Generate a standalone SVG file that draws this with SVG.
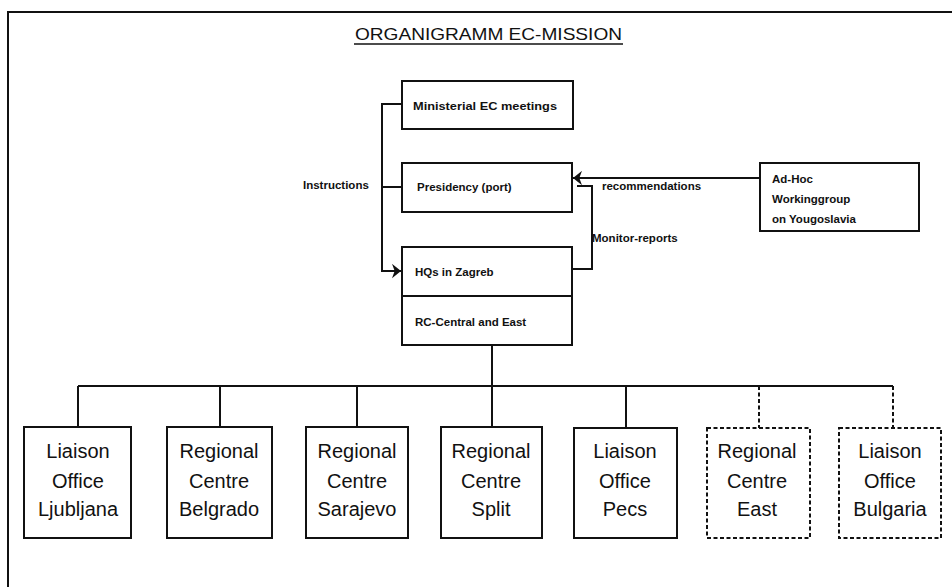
<svg xmlns="http://www.w3.org/2000/svg" width="952" height="587" viewBox="0 0 952 587">
<defs>
<style>
.box{fill:#fff;stroke:#111;stroke-width:2}
.dash{fill:#fff;stroke:#111;stroke-width:2;stroke-dasharray:4 2.5}
.ln{fill:none;stroke:#111;stroke-width:2}
.dl{fill:none;stroke:#111;stroke-width:2;stroke-dasharray:4 2.5}
.s{font-family:"Liberation Sans",Arial,sans-serif;font-size:11.5px;font-weight:bold;fill:#111}
.b{font-family:"Liberation Sans",Arial,sans-serif;font-size:20px;fill:#111;text-anchor:middle}
.t{font-family:"Liberation Sans",Arial,sans-serif;font-size:17px;fill:#111}
</style>
<marker id="ah" viewBox="0 0 10 16" refX="10" refY="8" markerWidth="9" markerHeight="15" markerUnits="userSpaceOnUse" orient="auto">
<path d="M0,0 L10,8 L0,16 L3,8 z" fill="#111"/>
</marker>
</defs>
<rect width="952" height="587" fill="#fff"/>
<g id="frame">
<path class="ln" d="M8,587 V12 H952"/>
</g>
<g id="title">
<text class="t" x="355" y="40" textLength="267" lengthAdjust="spacingAndGlyphs">ORGANIGRAMM EC-MISSION</text>
<line x1="354" y1="44" x2="623" y2="44" stroke="#111" stroke-width="1.5"/>
</g>
<g id="connectors">
<path class="ln" d="M402,104 H382 V271 H401" marker-end="url(#ah)"/>
<path class="ln" d="M382,187 H402"/>
<path class="ln" d="M572,269 H592 V186 H577"/>
<path class="ln" d="M760,178 H573" marker-end="url(#ah)"/>
<path class="ln" d="M492,345 V386"/>
<path class="ln" d="M78,386 H893"/>
<path class="ln" d="M78,386 V427 M220,386 V427 M357,386 V427 M492,386 V427 M626,386 V427"/>
<path class="dl" d="M759,386 V428 M893,386 V428"/>
</g>
<g id="labels">
<text class="s" x="303" y="189">Instructions</text>
<text class="s" x="602" y="190">recommendations</text>
<text class="s" x="592" y="242">Monitor-reports</text>
</g>
<g id="ministerial">
<rect class="box" x="402" y="81" width="171" height="48"/>
<text class="s" x="413" y="110" textLength="144" lengthAdjust="spacingAndGlyphs">Ministerial EC meetings</text>
</g>
<g id="presidency">
<rect class="box" x="402" y="163" width="170" height="49"/>
<text class="s" x="417" y="191">Presidency (port)</text>
</g>
<g id="hq">
<rect class="box" x="402" y="247" width="170" height="98"/>
<line x1="402" y1="296" x2="572" y2="296" stroke="#111" stroke-width="2"/>
<text class="s" x="415" y="276">HQs in Zagreb</text>
<text class="s" x="415" y="326">RC-Central and East</text>
</g>
<g id="adhoc">
<rect class="box" x="760" y="163" width="159" height="68"/>
<text class="s" x="772" y="183">Ad-Hoc</text>
<text class="s" x="772" y="203">Workinggroup</text>
<text class="s" x="772" y="223">on Yougoslavia</text>
</g>
<g id="lo-ljubljana">
<rect class="box" x="24" y="427" width="107" height="111"/>
<text class="b" x="78" y="458">Liaison</text><text class="b" x="78" y="488">Office</text><text class="b" x="78" y="516">Ljubljana</text>
</g>
<g id="rc-belgrado">
<rect class="box" x="167" y="427" width="105" height="111"/>
<text class="b" x="219" y="458">Regional</text><text class="b" x="219" y="488">Centre</text><text class="b" x="219" y="516">Belgrado</text>
</g>
<g id="rc-sarajevo">
<rect class="box" x="306" y="427" width="102" height="111"/>
<text class="b" x="357" y="458">Regional</text><text class="b" x="357" y="488">Centre</text><text class="b" x="357" y="516">Sarajevo</text>
</g>
<g id="rc-split">
<rect class="box" x="441" y="427" width="101" height="111"/>
<text class="b" x="491" y="458">Regional</text><text class="b" x="491" y="488">Centre</text><text class="b" x="491" y="516">Split</text>
</g>
<g id="lo-pecs">
<rect class="box" x="574" y="428" width="103" height="110"/>
<text class="b" x="625" y="458">Liaison</text><text class="b" x="625" y="488">Office</text><text class="b" x="625" y="516">Pecs</text>
</g>
<g id="rc-east">
<rect class="dash" x="707" y="428" width="103" height="110"/>
<text class="b" x="757" y="458">Regional</text><text class="b" x="757" y="488">Centre</text><text class="b" x="757" y="516">East</text>
</g>
<g id="lo-bulgaria">
<rect class="dash" x="839" y="428" width="102" height="110"/>
<text class="b" x="890" y="458">Liaison</text><text class="b" x="890" y="488">Office</text><text class="b" x="890" y="516">Bulgaria</text>
</g>
</svg>
